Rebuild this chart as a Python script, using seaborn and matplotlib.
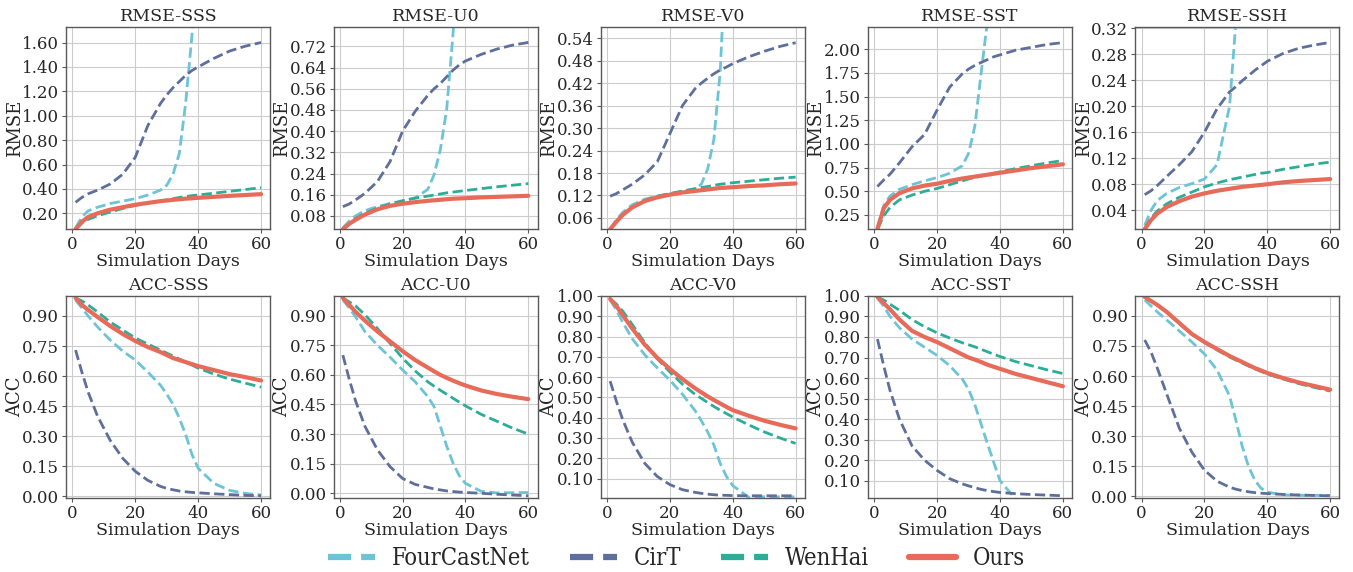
import numpy as np
import pandas as pd
import seaborn as sns
import matplotlib.pyplot as plt
from matplotlib.lines import Line2D
from matplotlib.ticker import MultipleLocator, FormatStrFormatter

days = [1, 3, 5, 8, 12, 16, 20, 24, 28, 30, 32, 34, 36, 38, 40, 45, 50, 55, 60]
models = ['FourCastNet', 'CirT', 'WenHai', 'Ours']
variables = ['SSS', 'U0', 'V0', 'SST', 'SSH']

# RMSE curves
rmse_sss = {
    'FourCastNet': [0.08, 0.17, 0.22, 0.25, 0.28, 0.30, 0.32, 0.35, 0.39, 0.43, 0.52, 0.69, 1.10, 1.65, 2.6, 4.0, 5.0, 5.8, 6.5],
    'CirT': [0.29, 0.33, 0.36, 0.39, 0.44, 0.52, 0.66, 0.92, 1.10, 1.17, 1.23, 1.28, 1.33, 1.37, 1.40, 1.47, 1.53, 1.57, 1.60],
    'WenHai': [0.07, 0.12, 0.15, 0.18, 0.21, 0.24, 0.265, 0.285, 0.30, 0.31, 0.32, 0.33, 0.337, 0.345, 0.35, 0.365, 0.38, 0.395, 0.41],
    'Ours': [0.07, 0.13, 0.17, 0.20, 0.23, 0.25, 0.27, 0.285, 0.30, 0.305, 0.31, 0.315, 0.32, 0.323, 0.327, 0.335, 0.343, 0.35, 0.357],
}
rmse_u0 = {
    'FourCastNet': [0.035, 0.06, 0.08, 0.10, 0.115, 0.127, 0.137, 0.148, 0.18, 0.235, 0.33, 0.48, 0.76, 1.1, 1.5, 2.2, 2.8, 3.3, 3.8],
    'CirT': [0.115, 0.125, 0.14, 0.165, 0.21, 0.285, 0.40, 0.475, 0.535, 0.56, 0.58, 0.605, 0.63, 0.65, 0.665, 0.69, 0.71, 0.725, 0.735],
    'WenHai': [0.03, 0.05, 0.07, 0.09, 0.11, 0.125, 0.137, 0.147, 0.155, 0.159, 0.163, 0.167, 0.17, 0.173, 0.176, 0.183, 0.19, 0.196, 0.202],
    'Ours': [0.03, 0.05, 0.065, 0.085, 0.105, 0.118, 0.126, 0.132, 0.137, 0.139, 0.141, 0.143, 0.145, 0.146, 0.147, 0.15, 0.152, 0.154, 0.156],
}
rmse_v0 = {
    'FourCastNet': [0.03, 0.055, 0.075, 0.095, 0.11, 0.118, 0.125, 0.13, 0.138, 0.15, 0.19, 0.27, 0.45, 0.8, 1.1, 1.6, 2.0, 2.3, 2.6],
    'CirT': [0.118, 0.125, 0.135, 0.15, 0.175, 0.21, 0.285, 0.36, 0.405, 0.42, 0.433, 0.445, 0.455, 0.463, 0.472, 0.49, 0.505, 0.518, 0.528],
    'WenHai': [0.03, 0.05, 0.068, 0.088, 0.107, 0.118, 0.125, 0.132, 0.138, 0.141, 0.144, 0.147, 0.15, 0.152, 0.154, 0.158, 0.162, 0.166, 0.169],
    'Ours': [0.03, 0.05, 0.068, 0.088, 0.105, 0.115, 0.122, 0.128, 0.132, 0.134, 0.136, 0.138, 0.14, 0.141, 0.142, 0.145, 0.147, 0.15, 0.152],
}
rmse_sst = {
    'FourCastNet': [0.12, 0.35, 0.45, 0.52, 0.57, 0.61, 0.645, 0.69, 0.77, 0.9, 1.19, 1.75, 2.3, 3.0, 3.6, 4.5, 5.2, 5.8, 6.3],
    'CirT': [0.55, 0.62, 0.68, 0.80, 0.97, 1.10, 1.36, 1.60, 1.74, 1.79, 1.83, 1.86, 1.89, 1.92, 1.94, 1.99, 2.02, 2.05, 2.07],
    'WenHai': [0.10, 0.24, 0.33, 0.41, 0.46, 0.50, 0.53, 0.57, 0.61, 0.63, 0.645, 0.66, 0.675, 0.69, 0.705, 0.74, 0.77, 0.80, 0.825],
    'Ours': [0.10, 0.32, 0.41, 0.48, 0.53, 0.56, 0.58, 0.61, 0.635, 0.645, 0.655, 0.665, 0.675, 0.685, 0.695, 0.72, 0.745, 0.765, 0.785],
}
rmse_ssh = {
    'FourCastNet': [0.017, 0.04, 0.055, 0.066, 0.075, 0.081, 0.088, 0.11, 0.20, 0.33, 0.45, 0.55, 0.62, 0.68, 0.72, 0.80, 0.86, 0.90, 0.94],
    'CirT': [0.064, 0.07, 0.078, 0.092, 0.11, 0.13, 0.16, 0.196, 0.222, 0.23, 0.239, 0.247, 0.255, 0.262, 0.269, 0.281, 0.289, 0.294, 0.298],
    'WenHai': [0.012, 0.028, 0.039, 0.05, 0.06, 0.068, 0.076, 0.082, 0.087, 0.089, 0.091, 0.093, 0.095, 0.097, 0.098, 0.103, 0.107, 0.111, 0.114],
    'Ours': [0.011, 0.025, 0.035, 0.045, 0.054, 0.061, 0.066, 0.07, 0.073, 0.0745, 0.076, 0.077, 0.078, 0.079, 0.080, 0.083, 0.085, 0.0865, 0.088],
}

# ACC curves
acc_sss = {
    'FourCastNet': [0.98, 0.94, 0.90, 0.845, 0.78, 0.725, 0.68, 0.62, 0.555, 0.51, 0.46, 0.39, 0.31, 0.21, 0.14, 0.065, 0.03, 0.015, 0.007],
    'CirT': [0.73, 0.62, 0.52, 0.40, 0.28, 0.19, 0.125, 0.08, 0.05, 0.04, 0.033, 0.027, 0.023, 0.02, 0.018, 0.013, 0.009, 0.005, 0.003],
    'WenHai': [0.99, 0.975, 0.955, 0.92, 0.87, 0.83, 0.79, 0.76, 0.73, 0.715, 0.70, 0.685, 0.67, 0.655, 0.64, 0.61, 0.585, 0.565, 0.545],
    'Ours': [0.99, 0.955, 0.93, 0.895, 0.85, 0.81, 0.775, 0.745, 0.72, 0.705, 0.69, 0.68, 0.67, 0.66, 0.65, 0.63, 0.61, 0.595, 0.578],
}
acc_u0 = {
    'FourCastNet': [0.98, 0.94, 0.895, 0.82, 0.75, 0.69, 0.625, 0.565, 0.49, 0.44, 0.34, 0.24, 0.155, 0.09, 0.05, 0.01, 0.002, 0.003, 0.004],
    'CirT': [0.70, 0.58, 0.47, 0.34, 0.22, 0.135, 0.075, 0.045, 0.03, 0.022, 0.017, 0.012, 0.009, 0.006, 0.004, 0.0, -0.005, -0.009, -0.013],
    'WenHai': [0.99, 0.97, 0.95, 0.905, 0.835, 0.76, 0.685, 0.62, 0.565, 0.543, 0.522, 0.502, 0.482, 0.462, 0.443, 0.40, 0.365, 0.33, 0.30],
    'Ours': [0.99, 0.955, 0.92, 0.875, 0.82, 0.77, 0.72, 0.675, 0.637, 0.618, 0.60, 0.585, 0.571, 0.558, 0.546, 0.521, 0.503, 0.489, 0.477],
}
acc_v0 = {
    'FourCastNet': [0.98, 0.93, 0.87, 0.79, 0.71, 0.645, 0.585, 0.515, 0.435, 0.385, 0.33, 0.265, 0.175, 0.11, 0.065, 0.008, 0.01, 0.01, 0.01],
    'CirT': [0.58, 0.48, 0.39, 0.28, 0.175, 0.11, 0.07, 0.045, 0.032, 0.027, 0.023, 0.02, 0.018, 0.017, 0.016, 0.015, 0.015, 0.015, 0.015],
    'WenHai': [0.985, 0.96, 0.925, 0.86, 0.77, 0.69, 0.625, 0.565, 0.515, 0.495, 0.475, 0.455, 0.437, 0.42, 0.403, 0.365, 0.33, 0.30, 0.273],
    'Ours': [0.985, 0.95, 0.905, 0.84, 0.76, 0.695, 0.64, 0.59, 0.545, 0.525, 0.505, 0.487, 0.47, 0.453, 0.437, 0.41, 0.385, 0.365, 0.347],
}
acc_sst = {
    'FourCastNet': [0.99, 0.95, 0.90, 0.845, 0.79, 0.75, 0.71, 0.66, 0.595, 0.545, 0.47, 0.375, 0.28, 0.19, 0.10, 0.01, 0.0, -0.005, -0.01],
    'CirT': [0.79, 0.66, 0.54, 0.40, 0.27, 0.20, 0.15, 0.11, 0.085, 0.075, 0.066, 0.058, 0.052, 0.047, 0.043, 0.037, 0.033, 0.03, 0.027],
    'WenHai': [0.995, 0.98, 0.96, 0.93, 0.885, 0.85, 0.82, 0.795, 0.772, 0.762, 0.752, 0.74, 0.728, 0.716, 0.705, 0.68, 0.66, 0.64, 0.622],
    'Ours': [0.995, 0.965, 0.935, 0.885, 0.83, 0.80, 0.775, 0.745, 0.715, 0.70, 0.69, 0.678, 0.665, 0.655, 0.645, 0.62, 0.60, 0.58, 0.56],
}
acc_ssh = {
    'FourCastNet': [0.98, 0.95, 0.92, 0.88, 0.825, 0.77, 0.71, 0.63, 0.50, 0.38, 0.25, 0.15, 0.08, 0.04, 0.02, 0.007, 0.005, 0.004, 0.004],
    'CirT': [0.78, 0.72, 0.64, 0.51, 0.34, 0.22, 0.13, 0.075, 0.045, 0.035, 0.028, 0.022, 0.018, 0.015, 0.013, 0.009, 0.006, 0.004, 0.002],
    'WenHai': [0.995, 0.975, 0.955, 0.918, 0.862, 0.808, 0.768, 0.73, 0.695, 0.68, 0.665, 0.65, 0.636, 0.623, 0.61, 0.585, 0.562, 0.543, 0.525],
    'Ours': [0.995, 0.975, 0.955, 0.92, 0.865, 0.81, 0.77, 0.735, 0.70, 0.685, 0.67, 0.655, 0.64, 0.628, 0.615, 0.59, 0.568, 0.55, 0.532],
}

rmse_panels = [rmse_sss, rmse_u0, rmse_v0, rmse_sst, rmse_ssh]
acc_panels = [acc_sss, acc_u0, acc_v0, acc_sst, acc_ssh]
rmse_steps = [0.2, 0.08, 0.06, 0.25, 0.04]
acc_steps = [0.15, 0.15, 0.1, 0.1, 0.15]

colors = {'FourCastNet': '#6cc4d6', 'CirT': '#5f6f9b', 'WenHai': '#2bad96', 'Ours': '#e86b5a'}
widths = {'FourCastNet': 2.0, 'CirT': 2.0, 'WenHai': 2.0, 'Ours': 3.0}
styles = {'FourCastNet': '--', 'CirT': '--', 'WenHai': '--', 'Ours': '-'}

sns.set_style('whitegrid', {'axes.edgecolor': '0.35', 'grid.color': '0.8',
                            'xtick.bottom': True, 'ytick.left': True})
plt.rcParams['font.family'] = ['DejaVu Serif']
plt.rcParams['xtick.labelsize'] = 12
plt.rcParams['ytick.labelsize'] = 12

fig, axes = plt.subplots(2, 5, figsize=(13.53, 5.72), dpi=100)
plt.subplots_adjust(left=0.049, right=0.99, top=0.953, bottom=0.129, wspace=0.31, hspace=0.33)

for row, (metric, panels, steps) in enumerate([('RMSE', rmse_panels, rmse_steps),
                                                ('ACC', acc_panels, acc_steps)]):
    for col, var in enumerate(variables):
        ax = axes[row, col]
        data = panels[col]
        for m in models:
            sns.lineplot(x=days, y=data[m], ax=ax, color=colors[m], lw=widths[m],
                         ls=styles[m], legend=False)
        others = np.concatenate([data[m] for m in models if m != 'FourCastNet'])
        if metric == 'RMSE':
            lo = min(np.min(data[m]) for m in models)
            ax.set_ylim(lo, others.max() * 1.08)
        else:
            ax.set_ylim(others.min() - 0.012, 1.0)
        ax.yaxis.set_major_locator(MultipleLocator(steps[col]))
        ax.yaxis.set_major_formatter(FormatStrFormatter('%.2f'))
        ax.xaxis.set_major_locator(MultipleLocator(20))
        ax.set_title(f'{metric}-{var}', fontsize=12.5, pad=4)
        ax.set_xlabel('Simulation Days', fontsize=12.5, labelpad=0)
        ax.set_ylabel(metric, fontsize=13, labelpad=-1)
        ax.tick_params(length=3, color='0.35', pad=2)
        for s in ax.spines.values():
            s.set_linewidth(1.0)

handles = [Line2D([], [], color=colors[m], lw=4.5, ls=styles[m]) for m in models]
fig.legend(handles, models, loc='center', bbox_to_anchor=(0.5, 0.024), ncol=4,
           frameon=False, prop={'family': 'DejaVu Serif', 'stretch': 'condensed', 'size': 17},
           handlelength=2.0, handletextpad=0.7, columnspacing=1.7, borderpad=0.1)

fig.savefig('out.png', dpi=100)
